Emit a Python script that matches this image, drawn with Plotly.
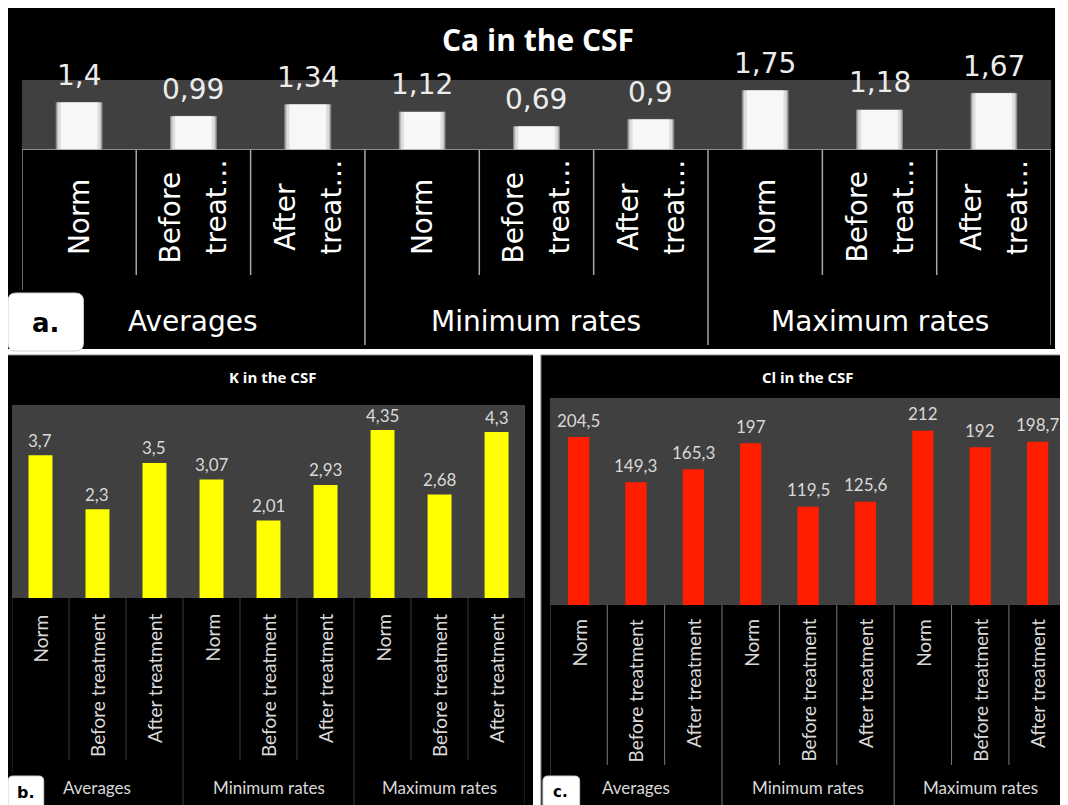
import plotly.graph_objects as go

W, H = 1068, 805
OX, OY = 8, 8  # page body margin of the html page
FW, FH = W - 2 * OX, H - OY
SPAN_W, SPAN_H = W - OX, H - OY  # reference extent mapped onto the figure


# ---------------- data ----------------
categories = ["Norm", "Before treatment", "After treatment"] * 3
groups = ["Averages", "Minimum rates", "Maximum rates"]
ca_tick_lines = [["Norm"], ["Before", "treat…"], ["After", "treat…"]] * 3
ca_values = [1.4, 0.99, 1.34, 1.12, 0.69, 0.9, 1.75, 1.18, 1.67]
k_values = [3.7, 2.3, 3.5, 3.07, 2.01, 2.93, 4.35, 2.68, 4.3]
cl_values = [204.5, 149.3, 165.3, 197, 119.5, 125.6, 212, 192, 198.7]
titles = ["Ca in the CSF", "K in the CSF", "Cl in the CSF"]
panel_tags = ["a.", "b.", "c."]


def X(px):
    return (px - OX) / SPAN_W


def Y(py):
    return 1 - (py - OY) / SPAN_H


def fmt(v):
    return ("%g" % v).replace(".", ",")


idx = list(range(len(categories)))
group_pos = [1, 4, 7]

fig = go.Figure()

# bars (panel a: layered to imitate the shaded white bars)
for wdt, col, lc in [(0.40, "#b8b8b8", "#8c8c8c"), (0.37, "#dedede", None), (0.32, "#f7f7f7", None)]:
    fig.add_trace(go.Bar(x=idx, y=ca_values, xaxis="x", yaxis="y", width=wdt,
                         marker=dict(color=col, line=dict(color=lc or col, width=1 if lc else 0)),
                         hoverinfo="skip"))
fig.add_trace(go.Bar(x=idx, y=k_values, xaxis="x2", yaxis="y2", width=0.42,
                     marker=dict(color="#ffff00", line=dict(width=0)), hoverinfo="skip"))
fig.add_trace(go.Bar(x=idx, y=cl_values, xaxis="x3", yaxis="y3", width=0.37,
                     marker=dict(color="#ff1e00", line=dict(width=0)), hoverinfo="skip"))

ax_common = dict(showgrid=False, zeroline=False, showticklabels=False, showline=False,
                 ticks="", fixedrange=True)

fig.update_layout(
    width=FW, height=FH, autosize=False,
    margin=dict(l=0, r=0, t=0, b=0),
    paper_bgcolor="#000000",
    plot_bgcolor="#404040",
    showlegend=False,
    barmode="overlay",
    xaxis=dict(domain=[X(22), X(1059)], range=[-0.5, 8.5], anchor="y", **ax_common),
    yaxis=dict(domain=[Y(150), Y(80)], range=[0, 2.06], anchor="x", **ax_common),
    xaxis2=dict(domain=[X(12), X(529)], range=[-0.5, 8.5], anchor="y2", **ax_common),
    yaxis2=dict(domain=[Y(598), Y(405)], range=[0, 5.0], anchor="x2", **ax_common),
    xaxis3=dict(domain=[X(554), 1.0], range=[-0.5, 8.39], anchor="y3", **ax_common),
    yaxis3=dict(domain=[Y(605), Y(398)], range=[0, 252], anchor="x3", **ax_common),
)

shapes = []
annotations = []

# white gaps between panels (paper background is black)
for (x0, y0, x1, y1) in [(1063, 0, W, 350), (0, 349, W, 355), (537, 349, 545, H)]:
    shapes.append(dict(type="rect", xref="paper", yref="paper", layer="below",
                       x0=X(x0), x1=X(x1), y0=Y(y1), y1=Y(y0),
                       fillcolor="#ffffff", line=dict(width=0)))
# thin grey frame lines
for (x0, y0, x1, y1) in [(8, 355, 537, 355), (545, 355, W, 355), (545, 355, 545, H)]:
    shapes.append(dict(type="line", xref="paper", yref="paper",
                       x0=X(x0), x1=X(x1), y0=Y(y0), y1=Y(y1),
                       line=dict(color="#8a8a8a", width=1)))

# dividers under the plot areas
panels = [
    dict(xr="x", yr="y", base=150, cat_end=275, grp_end=345, left_end=290, right_end=345,
         color="#a6a6a6", width=1.5, right=True),
    dict(xr="x2", yr="y2", base=598, cat_end=760, grp_end=805, left_end=773, right_end=805,
         color="#3a3a3a", width=1, right=True),
    dict(xr="x3", yr="y3", base=605, cat_end=765, grp_end=805, left_end=775, right_end=805,
         color="#7a7a7a", width=1, right=False),
]
for p in panels:
    for b in range(0, 10):
        xb = b - 0.5
        if b == 0:
            end = p["left_end"]
        elif b == 9:
            if not p["right"]:
                continue
            end = p["right_end"]
        elif b % 3 == 0:
            end = p["grp_end"]
        else:
            end = p["cat_end"]
        shapes.append(dict(type="line", xref=p["xr"], yref="paper", x0=xb, x1=xb,
                           y0=Y(p["base"]), y1=Y(end),
                           line=dict(color=p["color"], width=p["width"])))

# axis line for panel a
shapes.append(dict(type="line", xref="x", yref="y", x0=-0.5, x1=8.5, y0=0, y1=0,
                   line=dict(color="#a6a6a6", width=1.5)))


def rrect(x0, y0, x1, y1, r):
    return (f"M {X(x0 + r)},{Y(y0)} L {X(x1 - r)},{Y(y0)} Q {X(x1)},{Y(y0)} {X(x1)},{Y(y0 + r)} "
            f"L {X(x1)},{Y(y1 - r)} Q {X(x1)},{Y(y1)} {X(x1 - r)},{Y(y1)} "
            f"L {X(x0 + r)},{Y(y1)} Q {X(x0)},{Y(y1)} {X(x0)},{Y(y1 - r)} "
            f"L {X(x0)},{Y(y0 + r)} Q {X(x0)},{Y(y0)} {X(x0 + r)},{Y(y0)} Z")


tag_boxes = [(8, 293, 84, 351, 8, 46, 323, 26), (8, 776, 44, 809, 5, 26, 792, 16),
             (547, 776, 584, 809, 5, 565, 792, 15)]
for tag, (x0, y0, x1, y1, r, cx, cy, fs) in zip(panel_tags, tag_boxes):
    shapes.append(dict(type="path", xref="paper", yref="paper", path=rrect(x0, y0, x1, y1, r),
                       fillcolor="#ffffff", line=dict(color="#cfcfcf", width=1)))
    annotations.append(dict(xref="paper", yref="paper", x=X(cx), y=Y(cy), text="<b>" + tag + "</b>",
                            showarrow=False, xanchor="center", yanchor="middle",
                            font=dict(family="DejaVu Sans", size=fs, color="#000000")))

# titles
for t, (cx, cy, fs) in zip(titles, [(542, 40, 30), (275, 377, 15), (814, 377, 15)]):
    annotations.append(dict(xref="paper", yref="paper", x=X(cx), y=Y(cy), text="<b>" + t + "</b>",
                            showarrow=False, xanchor="center", yanchor="middle",
                            font=dict(family="Open Sans", size=fs, color="#ffffff")))

# value labels
for vals, xr, yr, shift, fam, fs, col in [
        (ca_values, "x", "y", 27, "DejaVu Sans", 28, "#ececec"),
        (k_values, "x2", "y2", 15, "Lato", 17, "#d9d9d9"),
        (cl_values, "x3", "y3", 17, "Lato", 17, "#d9d9d9")]:
    for i, v in zip(idx, vals):
        annotations.append(dict(xref=xr, yref=yr, x=i, y=v, text=fmt(v), showarrow=False,
                                xanchor="center", yanchor="middle", yshift=shift,
                                font=dict(family=fam, size=fs, color=col)))

# category labels panel a (wrapped into two columns)
for i, lines in zip(idx, ca_tick_lines):
    n = len(lines)
    for k, line in enumerate(lines):
        xs = 0 if n == 1 else (-23 if k == 0 else 23)
        cy = 217 if k == 0 else 207
        annotations.append(dict(xref="x", yref="paper", x=i, y=Y(cy), xshift=xs, text=line,
                                textangle=-90, showarrow=False, xanchor="center", yanchor="middle",
                                font=dict(family="DejaVu Sans", size=28, color="#ffffff")))

# category labels panels b and c
for xr, top in [("x2", 612), ("x3", 617)]:
    for i, c in zip(idx, categories):
        annotations.append(dict(xref=xr, yref="paper", x=i, y=Y(top), text=c, textangle=-90,
                                showarrow=False, xanchor="center", yanchor="top",
                                font=dict(family="Lato", size=19, color="#d9d9d9")))

# group labels
for xr, cy, fam, fs, col in [("x", 322, "DejaVu Sans", 28, "#ffffff"),
                             ("x2", 787, "Lato", 17, "#d9d9d9"),
                             ("x3", 787, "Lato", 17, "#d9d9d9")]:
    for gp, g in zip(group_pos, groups):
        annotations.append(dict(xref=xr, yref="paper", x=gp, y=Y(cy), text=g, showarrow=False,
                                xanchor="center", yanchor="middle",
                                font=dict(family=fam, size=fs, color=col)))

fig.update_layout(shapes=shapes, annotations=annotations)
fig.write_html("out.html")
